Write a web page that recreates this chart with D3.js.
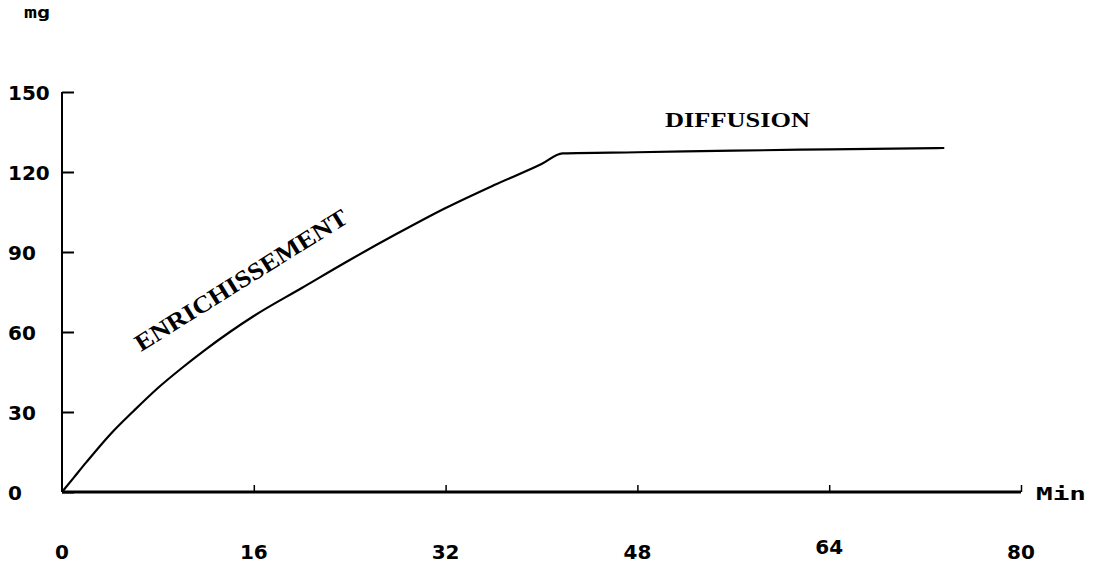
<!DOCTYPE html>
<html><head><meta charset="utf-8">
<script src="https://cdn.jsdelivr.net/npm/d3@7"></script>
<style>
html,body{margin:0;padding:0;background:#fff;}
svg{display:block;}
</style></head>
<body>
<script>
const timeMin = [0, 1, 2, 4, 6, 8, 10, 12, 14, 16, 20, 24, 28, 32, 36, 40, 41.75, 48, 56, 64, 73.6];
const massMg  = [0, 5.5, 11, 21.5, 30.5, 39, 46.5, 53.5, 60, 66, 76.5, 87, 97, 106.5, 115, 123, 127, 127.4, 128, 128.5, 129];
const xTicks = [0, 16, 32, 48, 64, 80];
const yTicks = [0, 30, 60, 90, 120, 150];
const phaseLabels = ["ENRICHISSEMENT", "DIFFUSION"];
const yUnit = "mg", xUnit = "Min";

const W = 1095, H = 568;
const svg = d3.select("body").append("svg").attr("width", W).attr("height", H);
const x = d3.scaleLinear().domain([0, 80]).range([62, 1021]);
const y = d3.scaleLinear().domain([0, 150]).range([492, 92]);
const tickFont = "'DejaVu Sans', sans-serif";

// Y axis
const yAxis = d3.axisRight(y).tickValues(yTicks).tickSize(12).tickFormat("");
const gy = svg.append("g").attr("transform", `translate(${x(0)},0)`).call(yAxis);
gy.select(".domain").attr("d", `M0,${y(0)}V${y(150)}`).attr("stroke", "#000").attr("stroke-width", 2);
gy.selectAll(".tick line").attr("stroke", "#000").attr("stroke-width", 2);

// X axis
const xAxis = d3.axisTop(x).tickValues(xTicks.slice(1)).tickSize(7).tickFormat("");
const gx = svg.append("g").attr("transform", `translate(0,${y(0)})`).call(xAxis);
gx.select(".domain").attr("d", `M${x(0)},0H${x(80)}`).attr("stroke", "#000").attr("stroke-width", 3);
gx.selectAll(".tick line").attr("stroke", "#000").attr("stroke-width", 1.5);

// Y tick labels (left aligned)
svg.append("g").selectAll("text").data(yTicks).join("text")
  .attr("x", 8).attr("y", d => y(d) + 8)
  .attr("font-family", tickFont).attr("font-weight", "bold").attr("font-size", 20)
  .attr("fill", "#000").text(d => d);

// X tick labels
svg.append("g").selectAll("text").data(xTicks).join("text")
  .attr("x", d => x(d)).attr("y", d => d === 64 ? 554 : 559)
  .attr("text-anchor", "middle")
  .attr("font-family", tickFont).attr("font-weight", "bold").attr("font-size", 20)
  .attr("fill", "#000").text(d => d);

// Units
svg.append("text").attr("x", 24).attr("y", 18).attr("font-family", "'DejaVu Sans Mono', monospace")
  .attr("font-weight", "bold").attr("font-size", 15)
  .attr("textLength", 26).attr("lengthAdjust", "spacingAndGlyphs").text(yUnit);
svg.append("text").attr("x", 1036).attr("y", 500).attr("font-family", "'DejaVu Sans Mono', monospace")
  .attr("font-weight", "bold").attr("font-size", 18)
  .attr("textLength", 50).attr("lengthAdjust", "spacingAndGlyphs").text(xUnit);

// Curve
const pts = timeMin.map((t, i) => [t, massMg[i]]);
const line = d3.line().x(d => x(d[0])).y(d => y(d[1])).curve(d3.curveMonotoneX);
svg.append("path").attr("d", line(pts)).attr("fill", "none").attr("stroke", "#000").attr("stroke-width", 2.2);

// Phase labels
svg.append("text").attr("transform", `translate(141,352) rotate(-32)`)
  .attr("font-family", "'Liberation Serif', serif").attr("font-weight", "bold").attr("font-size", 24)
  .attr("textLength", 246).attr("lengthAdjust", "spacingAndGlyphs").text(phaseLabels[0]);
svg.append("text").attr("x", 665).attr("y", 127)
  .attr("font-family", "'Liberation Serif', serif").attr("font-weight", "bold").attr("font-size", 21)
  .attr("textLength", 145).attr("lengthAdjust", "spacingAndGlyphs").text(phaseLabels[1]);
</script>
</body></html>
